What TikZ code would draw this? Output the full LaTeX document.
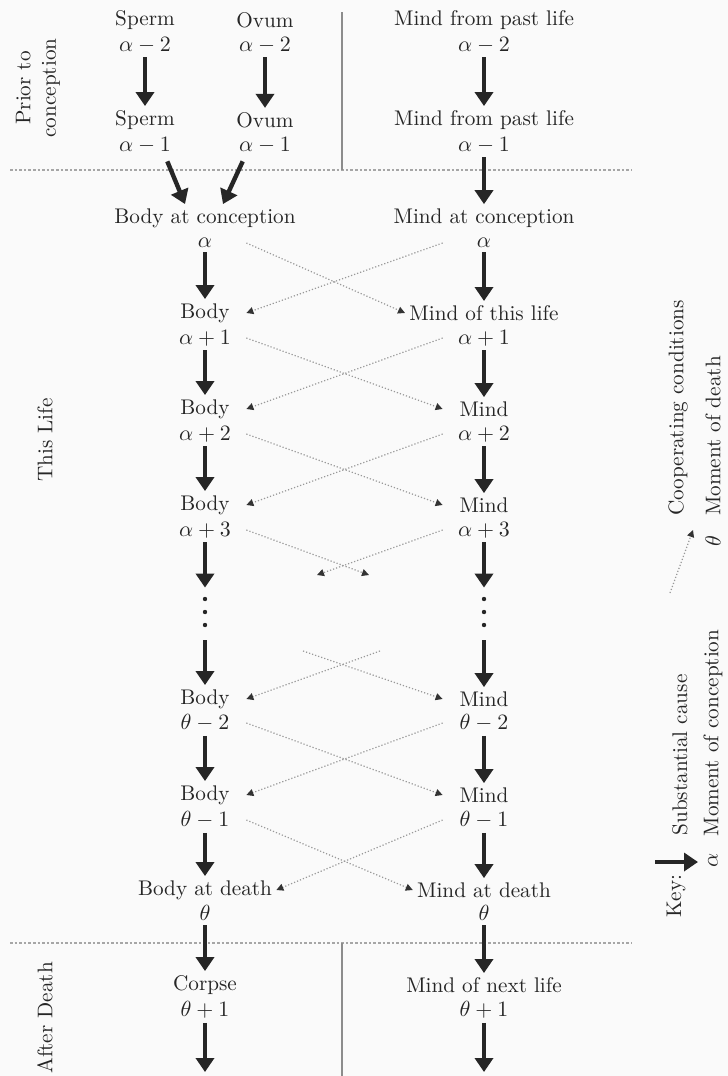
\documentclass[tikz,border=0pt]{standalone}
\usepackage{amsmath}
\usepackage{tikz}
\usetikzlibrary{arrows.meta}
\usetikzlibrary{backgrounds}

\begin{document}
\begin{tikzpicture}[x=0.5pt,y=-0.5pt,every node/.style={text=black!85, inner sep=2pt, font=\fontsize{10.6}{12.7}\selectfont},
	lbl/.style={minimum width=41pt},
	gap/.style={minimum width=6pt, minimum height=26pt, inner sep=0pt},
	sub/.style={-{Triangle[width=9pt,length=7pt]}, line width=2.2pt, draw=black!85},
	coop/.style={-{Triangle[width=3.5pt,length=3.5pt,color=black!80]}, densely dotted, line width=0.6pt, draw=black!40},
	sep/.style={densely dotted, line width=1.3pt, draw=black!35},
	wall/.style={line width=0.6pt, draw=black!45},
	side/.style={rotate=90, align=center}]
	
	\fill[black!2] (0,0) rectangle (728,1076);
	\useasboundingbox (0,0) rectangle (728,1076);
	
	\draw[sep] (10,170) -- (632,170);
	\draw[sep] (10,943) -- (632,943);
	\draw[wall] (342,12) -- (342,170);
	\draw[wall] (342,943) -- (342,1076);
	
	\node[side] (prior) at (38,88) {Prior to\\conception};
	\node[side] (thislife) at (45,440) {This Life};
	\node[side] (afterdeath) at (45,1018) {After Death};
	
	\node (sp2n) at (145,20) {Sperm};
	\node (sp2v) at (145,45) {$\alpha-2$};
	\node (ov2n) at (265,20) {Ovum};
	\node (ov2v) at (265,45) {$\alpha-2$};
	\node (pm2n) at (484,20) {Mind from past life};
	\node (pm2v) at (484,45) {$\alpha-2$};
	\node (sp1n) at (145,120) {Sperm};
	\node (sp1v) at (145,145) {$\alpha-1$};
	\node (ov1n) at (265,120) {Ovum};
	\node (ov1v) at (265,145) {$\alpha-1$};
	\node (pm1n) at (484,120) {Mind from past life};
	\node (pm1v) at (484,145) {$\alpha-1$};
	
	\node[lbl] (b0n) at (205,218) {Body at conception};
	\node[lbl] (b0v) at (205,243) {$\alpha$};
	\node[lbl] (b1n) at (205,313) {Body};
	\node[lbl] (b1v) at (205,338) {$\alpha+1$};
	\node[lbl] (b2n) at (205,409) {Body};
	\node[lbl] (b2v) at (205,434) {$\alpha+2$};
	\node[lbl] (b3n) at (205,505) {Body};
	\node[lbl] (b3v) at (205,530) {$\alpha+3$};
	\node[gap] (bd) at (205,614) {};
	\node[lbl] (b4n) at (205,699) {Body};
	\node[lbl] (b4v) at (205,723) {$\theta-2$};
	\node[lbl] (b5n) at (205,795) {Body};
	\node[lbl] (b5v) at (205,820) {$\theta-1$};
	\node[lbl] (b6n) at (205,890) {Body at death};
	\node[lbl] (b6v) at (205,913) {$\theta$};
	\node[lbl] (b7n) at (205,985) {Corpse};
	\node[lbl] (b7v) at (205,1010) {$\theta+1$};
	\coordinate (b8n) at (205,1072);
	
	\node[lbl] (m0n) at (484,218) {Mind at conception};
	\node[lbl] (m0v) at (484,243) {$\alpha$};
	\node[lbl] (m1n) at (484,313) {Mind of this life};
	\node[lbl] (m1v) at (484,338) {$\alpha+1$};
	\node[lbl] (m2n) at (484,409) {Mind};
	\node[lbl] (m2v) at (484,434) {$\alpha+2$};
	\node[lbl] (m3n) at (484,505) {Mind};
	\node[lbl] (m3v) at (484,530) {$\alpha+3$};
	\node[gap] (md) at (484,614) {};
	\node[lbl] (m4n) at (484,699) {Mind};
	\node[lbl] (m4v) at (484,723) {$\theta-2$};
	\node[lbl] (m5n) at (484,795) {Mind};
	\node[lbl] (m5v) at (484,820) {$\theta-1$};
	\node[lbl] (m6n) at (484,890) {Mind at death};
	\node[lbl] (m6v) at (484,913) {$\theta$};
	\node[lbl] (m7n) at (484,985) {Mind of next life};
	\node[lbl] (m7v) at (484,1010) {$\theta+1$};
	\coordinate (m8n) at (484,1072);
	
	\foreach \y in {599,612,625} {
		\fill[black!85] (205,\y) circle (1.1pt);
		\fill[black!85] (484,\y) circle (1.1pt);
	}
	
	\draw[sub] (sp2v) -- (sp1n);
	\draw[sub] (ov2v) -- (ov1n);
	\draw[sub] (pm2v) -- (pm1n);
	\draw[sub] ([xshift=-4pt,yshift=-2pt]sp1v.south east) -- ([xshift=-10pt]b0n.north);
	\draw[sub] ([xshift=4pt,yshift=-2pt]ov1v.south west) -- ([xshift=9pt]b0n.north);
	\draw[sub] (pm1v) -- (m0n);
	\foreach \i/\j in {0/1,1/2,2/3,4/5,5/6,6/7,7/8} {
		\draw[sub] (b\i v) -- (b\j n);
		\draw[sub] (m\i v) -- (m\j n);
	}
	\draw[sub] (b3v) -- (bd);
	\draw[sub] (bd) -- (b4n);
	\draw[sub] (m3v) -- (md);
	\draw[sub] (md) -- (m4n);
	
	\foreach \i/\j in {0/1,1/2,2/3,4/5,5/6} {
		\draw[coop] (b\i v.east) -- (m\j n.west);
		\draw[coop] (m\i v.west) -- (b\j n.east);
	}
	\coordinate (d1) at (369,575);
	\coordinate (d2) at (317,575);
	\coordinate (e1) at (303,651);
	\coordinate (e2) at (380,651);
	\draw[coop] (b3v.east) -- (d1);
	\draw[coop] (m3v.west) -- (d2);
	\draw[coop] (e1) -- (m4n.west);
	\draw[coop] (e2) -- (b4n.east);
	
	\node[side] (key) at (676,896) {Key:};
	\coordinate (k1) at (655,862);
	\coordinate (k2) at (698,862);
	\draw[sub] (k1) -- (k2);
	\node[side] (subst) at (680,755) {Substantial cause};
	\coordinate (k3) at (670,593);
	\coordinate (k4) at (693,530);
	\draw[coop] (k3) -- (k4);
	\node[side] (coopc) at (678,408) {Cooperating conditions};
	\node[side] (alpha) at (713,860) {$\alpha$};
	\node[side] (conc) at (713,733) {Moment of conception};
	\node[side] (theta) at (713,541) {$\theta$};
	\node[side] (death) at (713,436) {Moment of death};
\end{tikzpicture}
\end{document}
